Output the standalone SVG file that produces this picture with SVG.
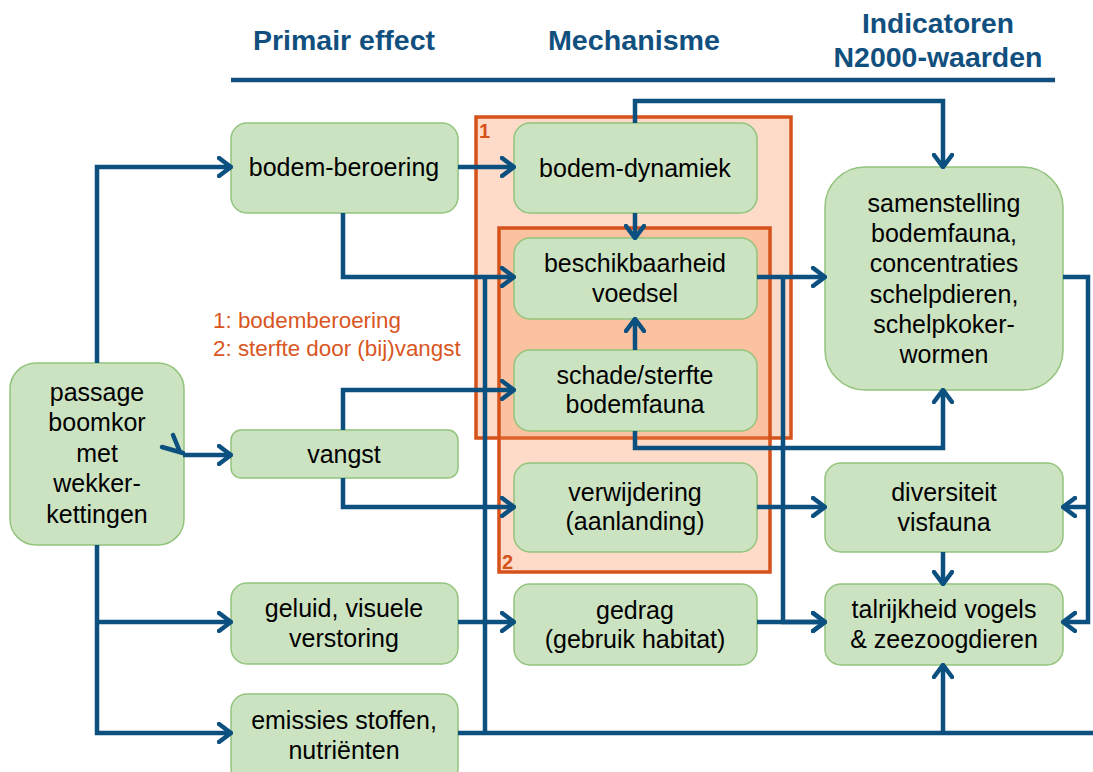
<svg xmlns="http://www.w3.org/2000/svg" width="1093" height="772" viewBox="0 0 1093 772">
<style>
.hd{font-family:"Liberation Sans",Arial,sans-serif;font-weight:bold;font-size:27px;fill:#11507e;text-anchor:middle}
.nd rect{fill:#cce3c2;stroke:#93c47d;stroke-width:1.5}
.nd text{font-family:"Liberation Sans",Arial,sans-serif;font-size:25px;fill:#000;text-anchor:middle}
.grp{fill:#f7894a;fill-opacity:0.3;stroke:#d5521a;stroke-width:3.5}
.gl{font-family:"Liberation Sans",Arial,sans-serif;font-weight:bold;font-size:20px;fill:#d5521a}
.lg{font-family:"Liberation Sans",Arial,sans-serif;font-size:22.4px;fill:#d9561f}
.cn path{fill:none;stroke:#0c5080;stroke-width:4.5;stroke-linejoin:miter}
.cn path.a{marker-end:url(#ah)}
</style>
<defs>
<marker id="ah" viewBox="0 0 16 22" refX="14" refY="11" markerWidth="16" markerHeight="22" markerUnits="userSpaceOnUse" orient="auto">
<path d="M2,2 L14,11 L2,20" fill="none" stroke="#0c5080" stroke-width="4.5" stroke-linecap="round" stroke-linejoin="miter"/>
</marker>
</defs>
<rect width="1093" height="772" fill="#ffffff"/>
<g id="headers">
<text class="hd" x="344" y="50" textLength="182" lengthAdjust="spacingAndGlyphs">Primair effect</text>
<text class="hd" x="634" y="50" textLength="172" lengthAdjust="spacingAndGlyphs">Mechanisme</text>
<text class="hd" x="938" y="33" textLength="152" lengthAdjust="spacingAndGlyphs">Indicatoren</text>
<text class="hd" x="938" y="67" textLength="209" lengthAdjust="spacingAndGlyphs">N2000-waarden</text>
<line x1="231" y1="80" x2="1055" y2="80" stroke="#11507e" stroke-width="4.5"/>
</g>
<g id="groups">
<rect class="grp" x="476" y="117" width="315" height="321"/>
<rect class="grp" x="499" y="228" width="271" height="344"/>
<text class="gl" x="479" y="138">1</text>
<text class="gl" x="502" y="569">2</text>
</g>
<g id="legend">
<text class="lg" x="213" y="328">1: bodemberoering</text>
<text class="lg" x="213" y="356">2: sterfte door (bij)vangst</text>
</g>
<g class="nd" id="n-passage">
<rect x="10" y="363" width="174" height="182" rx="26"/>
<text x="97" y="401">passage</text>
<text x="97" y="431">boomkor</text>
<text x="97" y="462">met</text>
<text x="97" y="492">wekker-</text>
<text x="97" y="523">kettingen</text>
</g>
<g class="nd" id="n-bodemberoering">
<rect x="231" y="123" width="227" height="90" rx="16"/>
<text x="344" y="176">bodem-beroering</text>
</g>
<g class="nd" id="n-vangst">
<rect x="231" y="430" width="227" height="48" rx="10"/>
<text x="344" y="463">vangst</text>
</g>
<g class="nd" id="n-geluid">
<rect x="231" y="583" width="227" height="81" rx="16"/>
<text x="344" y="617">geluid, visuele</text>
<text x="344" y="647">verstoring</text>
</g>
<g class="nd" id="n-emissies">
<rect x="231" y="694" width="227" height="90" rx="16"/>
<text x="344" y="729">emissies stoffen,</text>
<text x="344" y="759">nutriënten</text>
</g>
<g class="nd" id="n-bodemdynamiek">
<rect x="514" y="123" width="243" height="90" rx="16"/>
<text x="635" y="177">bodem-dynamiek</text>
</g>
<g class="nd" id="n-beschikbaarheid">
<rect x="514" y="238" width="243" height="81" rx="16"/>
<text x="635" y="272">beschikbaarheid</text>
<text x="635" y="302">voedsel</text>
</g>
<g class="nd" id="n-schade">
<rect x="514" y="350" width="243" height="81" rx="16"/>
<text x="635" y="384">schade/sterfte</text>
<text x="635" y="413">bodemfauna</text>
</g>
<g class="nd" id="n-verwijdering">
<rect x="514" y="463" width="243" height="89" rx="16"/>
<text x="635" y="501">verwijdering</text>
<text x="635" y="530">(aanlanding)</text>
</g>
<g class="nd" id="n-gedrag">
<rect x="514" y="584" width="243" height="81" rx="16"/>
<text x="635" y="619">gedrag</text>
<text x="635" y="648">(gebruik habitat)</text>
</g>
<g class="nd" id="n-samenstelling">
<rect x="825" y="167" width="238" height="223" rx="40"/>
<text x="944" y="212">samenstelling</text>
<text x="944" y="242">bodemfauna,</text>
<text x="944" y="272">concentraties</text>
<text x="944" y="303">schelpdieren,</text>
<text x="944" y="333">schelpkoker-</text>
<text x="944" y="363">wormen</text>
</g>
<g class="nd" id="n-diversiteit">
<rect x="825" y="463" width="238" height="89" rx="16"/>
<text x="944" y="501">diversiteit</text>
<text x="944" y="531">visfauna</text>
</g>
<g class="nd" id="n-talrijkheid">
<rect x="825" y="584" width="238" height="81" rx="16"/>
<text x="944" y="618">talrijkheid vogels</text>
<text x="944" y="648">&amp; zeezoogdieren</text>
</g>
<g class="cn" id="connectors">
<path class="a" d="M97,363 V167 H231"/>
<path class="a" d="M97,545 V733 H231"/>
<path class="a" d="M97,622 H231"/>
<path class="a" d="M183,455 H231"/>
<path d="M162,447 L183,453 M173,435 L180,452" stroke-linecap="round"/>
<path class="a" d="M458,167 H514"/>
<path class="a" d="M343,213 V277 H514"/>
<path class="a" d="M343,430 V390 H514"/>
<path class="a" d="M343,478 V507 H514"/>
<path class="a" d="M458,622 H514"/>
<path d="M458,733 H1093"/>
<path d="M485,733 V277"/>
<path class="a" d="M943,733 V665"/>
<path class="a" d="M635,123 V101 H943 V167"/>
<path class="a" d="M635,213 V238"/>
<path class="a" d="M635,350 V319"/>
<path class="a" d="M635,431 V448 H943 V390"/>
<path class="a" d="M757,277 H825"/>
<path class="a" d="M783,277 V622 H825"/>
<path class="a" d="M757,622 H825"/>
<path class="a" d="M757,507 H825"/>
<path class="a" d="M1063,277 H1088 V622 H1063"/>
<path class="a" d="M1088,507 H1063"/>
<path class="a" d="M943,552 V584"/>
</g>
</svg>
